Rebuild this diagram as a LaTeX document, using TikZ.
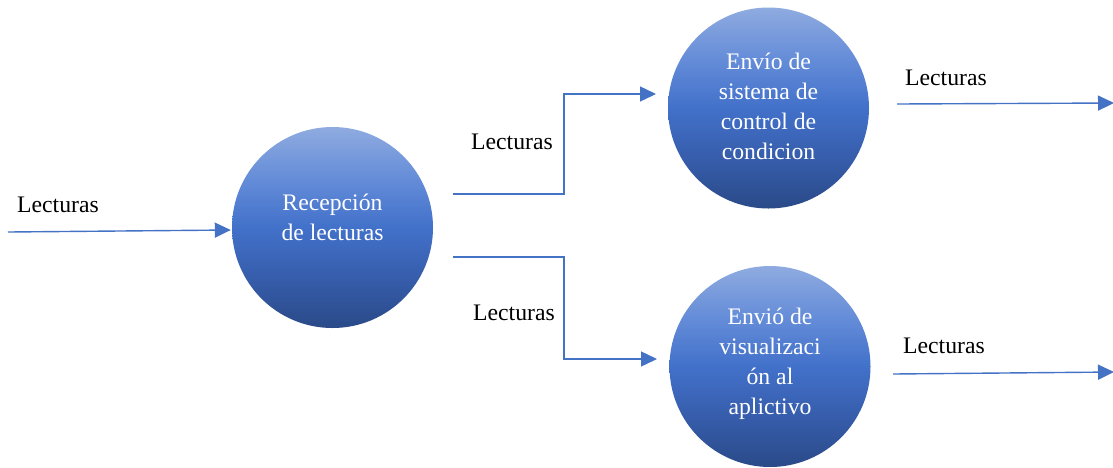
\documentclass[tikz,border=0pt]{standalone}
\usepackage{fontspec}
\setmainfont{Liberation Serif}
\usetikzlibrary{arrows.meta,calc}
\definecolor{flowblue}{RGB}{68,114,196}
\definecolor{balltop}{RGB}{143,171,224}
\definecolor{ballhigh}{RGB}{100,140,216}
\definecolor{ballmid}{RGB}{66,113,202}
\definecolor{balllow}{RGB}{54,92,170}
\definecolor{ballbot}{RGB}{42,74,136}
% vertical gradient of the process circles (0bp = bottom)
\pgfdeclareverticalshading{ballshade}{100bp}{%
  color(0bp)=(ballbot); color(25bp)=(ballbot); color(37bp)=(balllow);
  color(50bp)=(ballmid); color(62bp)=(ballhigh); color(75bp)=(balltop);
  color(100bp)=(balltop)}
\tikzset{
  ball/.style={circle, minimum size=201pt, inner sep=0pt, shading=ballshade},
  balltext/.style={text=white, align=center, font=\fontsize{23.7}{30}\selectfont},
  flow/.style={draw=flowblue, line width=1.4pt,
    -{Triangle[length=16pt,width=15pt]}},
  flowlabel/.style={font=\fontsize{23.7}{30}\selectfont, inner sep=0pt}
}
\begin{document}
\begin{tikzpicture}[x=1pt,y=-1pt]
\useasboundingbox (0,0) rectangle (1113,467);

% process circles
\node[ball, label={[balltext, yshift=10pt]center:Recepción\\de lecturas}] (rec) at (332.5,227.5) {};
\node[ball, label={[balltext, yshift=2pt]center:Envío de\\sistema de\\control de\\condicion}] (ctl) at (768.5,108) {};
\node[ball, label={[balltext, yshift=2.5pt]center:Envió de\\visualizaci\\ón al\\aplictivo}] (vis) at (770,366.5) {};

% connector end points
\coordinate (in)   at (8,232);
\coordinate (upA)  at (453,194);
\coordinate (upB)  at (656,94);
\coordinate (dnA)  at (453,257);
\coordinate (dnB)  at (657,359);
\coordinate (outA) at (897,104);
\coordinate (outB) at (1114,103);
\coordinate (outC) at (893,374);
\coordinate (outD) at (1114,372);

% flows
\draw[flow] (in) -- ($(rec.west)+(-1,2.5)$);
\draw[flow] (upA) -- (564,194) |- (upB);
\draw[flow] (dnA) -- (564,257) |- (dnB);
\draw[flow] (outA) -- (outB);
\draw[flow] (outC) -- (outD);

% flow labels
\node[flowlabel] (l1) at (58,205) {Lecturas};
\node[flowlabel] (l2) at (512,142) {Lecturas};
\node[flowlabel] (l3) at (514,313) {Lecturas};
\node[flowlabel] (l4) at (946,78) {Lecturas};
\node[flowlabel] (l5) at (944,346) {Lecturas};
\end{tikzpicture}
\end{document}
